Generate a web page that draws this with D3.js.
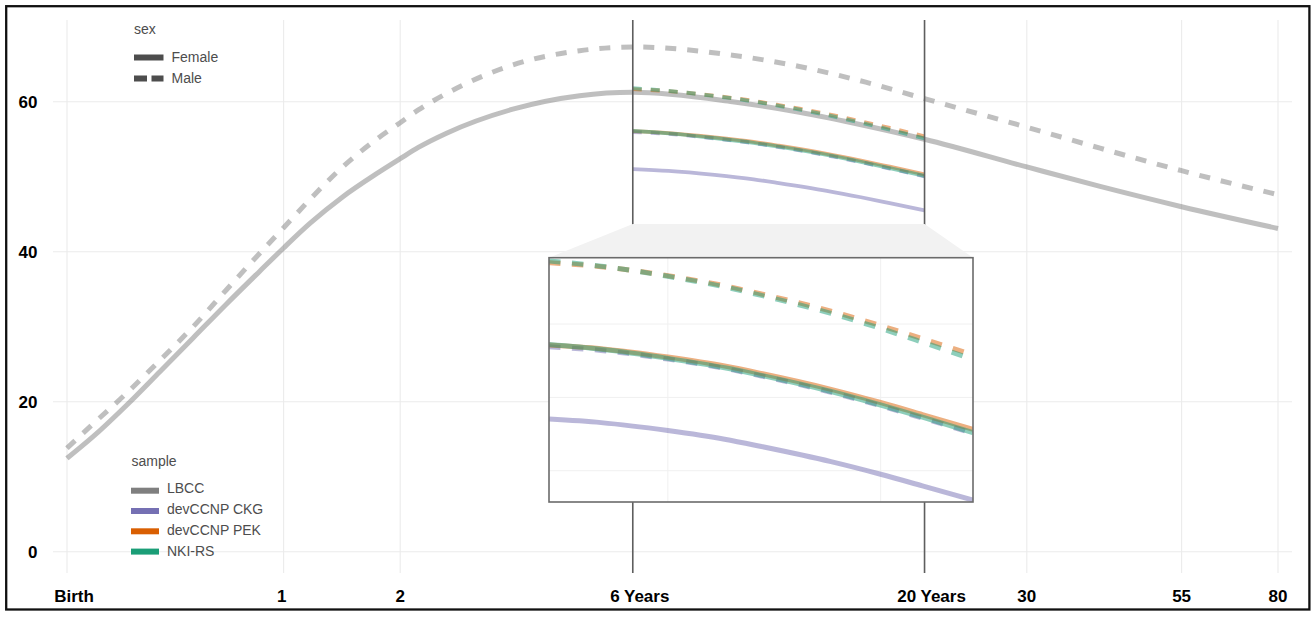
<!DOCTYPE html>
<html><head><meta charset="utf-8">
<script src="https://cdn.jsdelivr.net/npm/d3@7"></script>
<style>body{margin:0;background:#fff} svg{display:block} text{font-family:"Liberation Sans",Arial,Helvetica,sans-serif}</style>
</head><body><svg id="c" width="1312" height="618"></svg>
<script>
// ---------- data ----------
const xTickAges = [0, 1, 2, 6, 20, 30, 55, 80];
const xTickLabels = ["Birth", "1", "2", "6 Years", "20 Years", "30", "55", "80"];
const yTicks = [0, 20, 40, 60];
const zoomAges = [6, 20];
const zoomYMin = 43.7;
const insetYDomain = [45.37, 62.02];
const insetXGridAges = [8.5, 15.5];
const insetYGrid = [47.5, 52.5, 57.5];
const sexes = ["Female", "Male"];
const samples = ["LBCC", "devCCNP CKG", "devCCNP PEK", "NKI-RS"];
const sampleColors = ["#7f7f7f", "#7570b3", "#d95f02", "#1b9e77"];

// LBCC normative curves (full lifespan)
const lbccAges   = [0, 0.08, 0.2, 0.33, 0.48, 0.65, 0.845, 1.0, 1.19, 1.45, 1.76, 2.0, 2.2, 2.54, 3.5, 4.75, 6, 9.16, 12.07, 15.8, 20, 30, 40, 55, 80];
const lbccFemale = [12.45, 15.3, 19.6, 24.0, 28.5, 33.0, 37.4, 40.5, 43.8, 47.3, 50.4, 52.4, 53.9, 55.8, 59.0, 60.8, 61.25, 60.0, 58.6, 56.8, 55.0, 51.3, 48.7, 46.0, 43.1];
const lbccMale   = [13.8, 17.0, 21.2, 25.5, 30.0, 34.9, 39.8, 43.2, 47.0, 51.3, 55.0, 57.2, 58.9, 61.1, 64.9, 66.8, 67.3, 66.2, 64.7, 62.6, 60.4, 56.6, 53.8, 50.8, 47.6];

// Other samples, 6 to 20 years
const sampleAges = [6, 7, 8.5, 10, 11.1, 13.5, 15.5, 17.4, 20];
const ckgFemale  = [51.02, 50.78, 50.24, 49.65, 49.15, 48.12, 47.26, 46.47, 45.50];
const ckgMale    = [55.95, 55.70, 55.11, 54.48, 53.96, 52.85, 51.93, 51.09, 50.05];
const pekFemale  = [56.07, 55.82, 55.25, 54.64, 54.13, 53.05, 52.15, 51.33, 50.32];
const pekMale    = [61.68, 61.41, 60.79, 60.11, 59.55, 58.38, 57.39, 56.50, 55.39];
const nkiFemale  = [56.10, 55.78, 55.16, 54.52, 54.00, 52.90, 51.98, 51.15, 50.10];
const nkiMale    = [61.80, 61.44, 60.75, 60.03, 59.45, 58.22, 57.20, 56.26, 55.09];

// ---------- build series ----------
const zip = (a, v) => a.map((d, i) => ({age: d, v: v[i]}));
const lbccSeries = [
  {sample: "LBCC", sex: "Female", pts: zip(lbccAges, lbccFemale)},
  {sample: "LBCC", sex: "Male", pts: zip(lbccAges, lbccMale)}
];
const otherSeries = [
  {sample: "devCCNP CKG", sex: "Female", pts: zip(sampleAges, ckgFemale)},
  {sample: "devCCNP CKG", sex: "Male", pts: zip(sampleAges, ckgMale)},
  {sample: "devCCNP PEK", sex: "Female", pts: zip(sampleAges, pekFemale)},
  {sample: "devCCNP PEK", sex: "Male", pts: zip(sampleAges, pekMale)},
  {sample: "NKI-RS", sex: "Female", pts: zip(sampleAges, nkiFemale)},
  {sample: "NKI-RS", sex: "Male", pts: zip(sampleAges, nkiMale)}
];
const color = d3.scaleOrdinal().domain(samples).range(sampleColors);

// ---------- layout ----------
const P = {left: 53, right: 1292, top: 20, bottom: 573};
const OFF = 0.77;
const xs = d3.scaleLog().domain([0 + OFF, 80 + OFF]).range([67, 1278]);
const x = a => xs(a + OFF);
const y = d3.scaleLinear().domain([0, 60]).range([551.7, 101.7]);

const I = {left: 549, right: 973, top: 257.7, bottom: 502};
const ixs = d3.scaleLog().domain([zoomAges[0] + OFF, zoomAges[1] + OFF]).range([I.left, I.right]);
const ix = a => ixs(a + OFF);
const iy = d3.scaleLinear().domain(insetYDomain).range([I.bottom, I.top]);

const svg = d3.select("#c");
const defs = svg.append("defs");
defs.append("clipPath").attr("id", "pclip").append("rect")
  .attr("x", P.left).attr("y", P.top).attr("width", P.right - P.left).attr("height", P.bottom - P.top);
defs.append("clipPath").attr("id", "iclip").append("rect")
  .attr("x", I.left).attr("y", I.top).attr("width", I.right - I.left).attr("height", I.bottom - I.top);

// gridlines
const grid = svg.append("g").attr("stroke", "#ebebeb").attr("stroke-width", 1.1);
grid.selectAll("line.v").data(xTickAges).join("line")
  .attr("x1", d => x(d)).attr("x2", d => x(d)).attr("y1", P.top).attr("y2", P.bottom);
grid.selectAll("line.h").data(yTicks).join("line").attr("class", "h")
  .attr("x1", P.left).attr("x2", P.right).attr("y1", d => y(d)).attr("y2", d => y(d));

// main curves
const lineMain = d3.line().x(d => x(d.age)).y(d => y(d.v)).curve(d3.curveMonotoneX);
const gMain = svg.append("g").attr("clip-path", "url(#pclip)").attr("fill", "none");
gMain.selectAll("path.l").data(lbccSeries).join("path")
  .attr("d", d => lineMain(d.pts))
  .attr("stroke", d => color(d.sample)).attr("stroke-opacity", 0.5)
  .attr("stroke-width", 5)
  .attr("stroke-dasharray", d => d.sex === "Male" ? "11 11" : null);
gMain.selectAll("path.o").data(otherSeries).join("path")
  .attr("d", d => lineMain(d.pts))
  .attr("stroke", d => color(d.sample)).attr("stroke-opacity", 0.5)
  .attr("stroke-width", 3.8)
  .attr("stroke-dasharray", d => d.sex === "Male" ? "9 9" : null);

// zoom boundary lines
svg.append("g").selectAll("line").data(zoomAges).join("line")
  .attr("x1", d => x(d)).attr("x2", d => x(d)).attr("y1", P.top).attr("y2", P.bottom)
  .attr("stroke", "#5e5e5e").attr("stroke-width", 1.6);

// connector trapezoid
svg.append("path")
  .attr("d", `M${x(zoomAges[0])},${y(zoomYMin)}L${x(zoomAges[1])},${y(zoomYMin)}L${I.right},${I.top}L${I.left},${I.top}Z`)
  .attr("fill", "#f2f2f2");

// inset
svg.append("rect").attr("x", I.left).attr("y", I.top).attr("width", I.right - I.left).attr("height", I.bottom - I.top)
  .attr("fill", "#fff");
const ig = svg.append("g").attr("stroke", "#f0f0f0").attr("stroke-width", 1);
ig.selectAll("line.v").data(insetXGridAges).join("line")
  .attr("x1", d => ix(d)).attr("x2", d => ix(d)).attr("y1", I.top).attr("y2", I.bottom);
ig.selectAll("line.h").data(insetYGrid).join("line").attr("class", "h")
  .attr("x1", I.left).attr("x2", I.right).attr("y1", d => iy(d)).attr("y2", d => iy(d));
const lineInset = d3.line().x(d => ix(d.age)).y(d => iy(d.v)).curve(d3.curveMonotoneX);
svg.append("g").attr("clip-path", "url(#iclip)").attr("fill", "none")
  .selectAll("path").data(otherSeries).join("path")
  .attr("d", d => lineInset(d.pts))
  .attr("stroke", d => color(d.sample)).attr("stroke-opacity", 0.5)
  .attr("stroke-width", 5)
  .attr("stroke-dasharray", d => d.sex === "Male" ? "11.5 11.5" : null);
svg.append("rect").attr("x", I.left).attr("y", I.top).attr("width", I.right - I.left).attr("height", I.bottom - I.top)
  .attr("fill", "none").attr("stroke", "#6b6b6b").attr("stroke-width", 1.6);

// axes labels
svg.append("g").selectAll("text").data(xTickAges).join("text")
  .attr("x", d => x(d)).attr("y", 602)
  .attr("dx", (d, i) => isNaN(+xTickLabels[i]) ? 7 : (xTickLabels[i] === "1" ? -2 : 0))
  .attr("text-anchor", "middle").attr("font-size", 17).attr("font-weight", "bold").attr("fill", "#000")
  .text((d, i) => xTickLabels[i]);
svg.append("g").selectAll("text").data(yTicks).join("text")
  .attr("x", 37.5).attr("y", d => y(d) + 6)
  .attr("text-anchor", "end").attr("font-size", 17).attr("font-weight", "bold").attr("fill", "#000")
  .text(d => d);

// legends
const lg = svg.append("g").attr("font-size", 14).attr("fill", "#4d4d4d");
lg.append("text").attr("x", 134).attr("y", 34).text("sex");
sexes.forEach((s, i) => {
  const ky = 57.5 + i * 21;
  lg.append("line").attr("x1", 134).attr("x2", 163.5).attr("y1", ky).attr("y2", ky)
    .attr("stroke", "#4d4d4d").attr("stroke-width", 6)
    .attr("stroke-dasharray", s === "Male" ? "13 4.5" : null);
  lg.append("text").attr("x", 171.5).attr("y", ky + 4).text(s);
});
lg.append("text").attr("x", 131.5).attr("y", 466).text("sample");
samples.forEach((s, i) => {
  const ky = 490.7 + i * 20.3;
  lg.append("line").attr("x1", 131).attr("x2", 159).attr("y1", ky).attr("y2", ky)
    .attr("stroke", color(s)).attr("stroke-width", 6);
  lg.append("text").attr("x", 167).attr("y", 493 + i * 21).text(s);
});

// outer border
svg.append("rect").attr("x", 6.2).attr("y", 6.2).attr("width", 1303.2).attr("height", 603.3)
  .attr("fill", "none").attr("stroke", "#111").attr("stroke-width", 2.3);
</script></body></html>
